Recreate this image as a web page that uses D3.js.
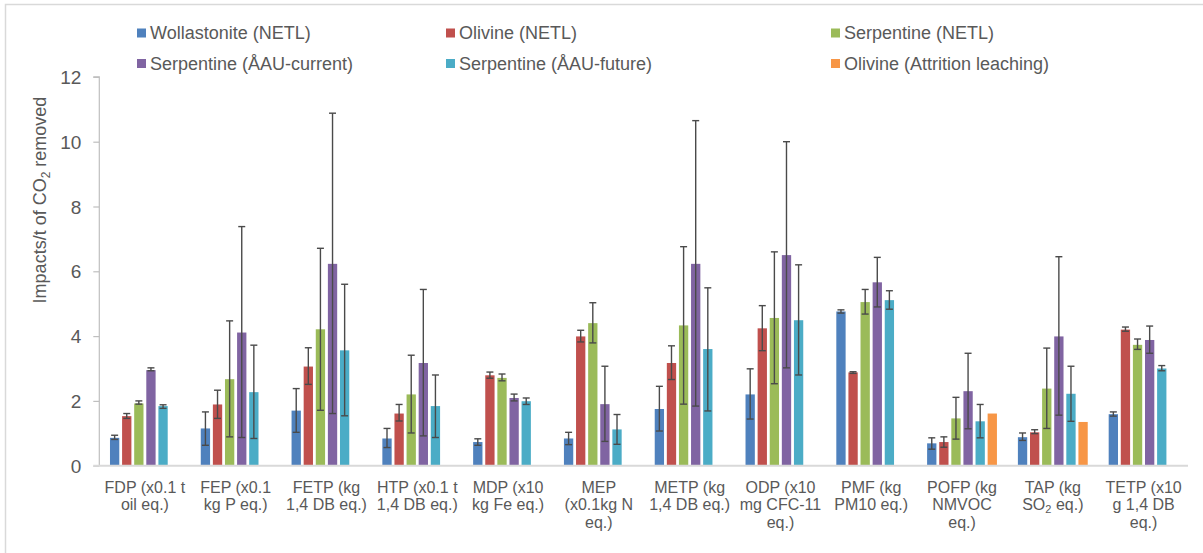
<!DOCTYPE html>
<html><head><meta charset="utf-8">
<script src="https://cdn.jsdelivr.net/npm/d3@7/dist/d3.min.js"></script>
<style>body{margin:0;background:#fff;} svg{display:block;font-family:"Liberation Sans",Arial,sans-serif;}</style>
</head><body>
<svg id="chart" width="1203" height="553"></svg>
<script>
const categories = ["FDP","FEP","FETP","HTP","MDP","MEP","METP","ODP","PMF","POFP","TAP","TETP"];
const categoryLabels = [
  ["FDP (x0.1 t","oil eq.)"],
  ["FEP (x0.1","kg P eq.)"],
  ["FETP (kg","1,4 DB eq.)"],
  ["HTP (x0.1 t","1,4 DB eq.)"],
  ["MDP (x10","kg Fe eq.)"],
  ["MEP","(x0.1kg N","eq.)"],
  ["METP (kg","1,4 DB eq.)"],
  ["ODP (x10","mg CFC-11","eq.)"],
  ["PMF (kg","PM10 eq.)"],
  ["POFP (kg","NMVOC","eq.)"],
  ["TAP (kg","SO|2| eq.)"],
  ["TETP (x10","g 1,4 DB","eq.)"]
];
const seriesNames = ["Wollastonite (NETL)","Olivine (NETL)","Serpentine (NETL)","Serpentine (ÅAU-current)","Serpentine (ÅAU-future)","Olivine (Attrition leaching)"];
const seriesColors = ["#4F81BD","#C0504D","#9BBB59","#8064A2","#4BACC6","#F79646"];

const wollastonite    = [0.86,1.15,1.70,0.84,0.73,0.84,1.75,2.20,4.76,0.69,0.88,1.59];
const wollastoniteHi  = [0.94,1.66,2.38,1.15,0.83,1.03,2.45,2.99,4.81,0.86,1.01,1.66];
const wollastoniteLo  = [0.81,0.63,1.03,0.56,0.63,0.65,1.07,1.44,4.71,0.51,0.78,1.53];
const olivine         = [1.53,1.89,3.06,1.61,2.79,3.99,3.17,4.24,2.88,0.73,1.03,4.20];
const olivineHi       = [1.61,2.33,3.64,1.89,2.89,4.18,3.70,4.94,2.90,0.89,1.11,4.28];
const olivineLo       = [1.46,1.46,2.51,1.38,2.70,3.82,2.66,3.55,2.85,0.57,0.99,4.15];
const serpNETL        = [1.92,2.67,4.21,2.20,2.71,4.40,4.33,4.56,5.05,1.46,2.38,3.73];
const serpNETLHi      = [2.00,4.47,6.71,3.41,2.83,5.03,6.76,6.60,5.44,2.11,3.63,3.91];
const serpNETLLo      = [1.90,0.89,1.71,1.01,2.62,3.79,1.90,2.53,4.68,0.82,1.15,3.59];
const serpAAUcur      = [2.95,4.11,6.23,3.17,2.09,1.90,6.23,6.50,5.66,2.30,3.99,3.88];
const serpAAUcurHi    = [3.02,7.38,10.88,5.44,2.21,3.07,10.65,10.00,6.43,3.47,6.45,4.31];
const serpAAUcurLo    = [2.93,0.87,1.61,0.92,2.00,0.75,1.84,3.02,4.90,1.14,1.56,3.47];
const serpAAUfut      = [1.84,2.27,3.56,1.84,1.99,1.12,3.60,4.49,5.11,1.37,2.22,3.00];
const serpAAUfutHi    = [1.88,3.72,5.60,2.80,2.09,1.58,5.49,6.20,5.40,1.89,3.07,3.09];
const serpAAUfutLo    = [1.77,0.84,1.54,0.87,1.89,0.66,1.69,2.80,4.83,0.86,1.37,2.93];
const attrition       = [null,null,null,null,null,null,null,null,null,1.61,1.35,null];
const yTicks = [0,2,4,6,8,10,12];

const seriesValues = [wollastonite,olivine,serpNETL,serpAAUcur,serpAAUfut,attrition];
const seriesHi = [wollastoniteHi,olivineHi,serpNETLHi,serpAAUcurHi,serpAAUfutHi,null];
const seriesLo = [wollastoniteLo,olivineLo,serpNETLLo,serpAAUcurLo,serpAAUfutLo,null];

const svg = d3.select("#chart");
const textColor = "#595959";

// chart border (only top/left visible)
svg.append("path").attr("d","M5.5,553 L5.5,4.5 L1203,4.5").attr("fill","none").attr("stroke","#d9d9d9").attr("stroke-width",1.5);

const x0 = d3.scaleBand().domain(categories).range([99.5,1189]).paddingInner(0).paddingOuter(0);
const x1 = d3.scaleBand().domain(d3.range(6)).range([0,x0.bandwidth()]).paddingInner(0).paddingOuter(0.75);
const y = d3.scaleLinear().domain([0,12]).range([465.7,76.9]);

// y axis
const yAxis = d3.axisLeft(y).tickValues(yTicks).tickSize(6).tickPadding(12).tickFormat(d3.format("d"));
const gy = svg.append("g").attr("transform","translate(99.3,0)").call(yAxis);
gy.select(".domain").attr("stroke","#bfbfbf").attr("stroke-width",1.2).attr("d","M-6,"+y(12)+"H0V"+y(0));
gy.selectAll(".tick line").attr("stroke","#bfbfbf").attr("stroke-width",1.2);
gy.selectAll(".tick text").attr("fill",textColor).style("font-size","19px").attr("dy","0.35em");

// bars
const groups = svg.append("g").selectAll("g").data(categories).join("g")
  .attr("transform",d=>`translate(${x0(d)},0)`);
seriesValues.forEach((vals,si)=>{
  groups.filter((d,i)=>vals[i]!=null).append("rect")
    .attr("x",x1(si)+1.4).attr("width",x1.bandwidth()-2.8)
    .attr("y",(d)=>y(vals[categories.indexOf(d)]))
    .attr("height",(d)=>y(0)-y(vals[categories.indexOf(d)]))
    .attr("fill",seriesColors[si]);
});
// error bars
seriesValues.forEach((vals,si)=>{
  if(!seriesHi[si]) return;
  const hi=seriesHi[si], lo=seriesLo[si];
  const cx = x1(si)+x1.bandwidth()/2;
  const eg = groups.append("g").attr("stroke","#4a4a4a").attr("stroke-width",1.4).attr("fill","none");
  eg.append("line").attr("x1",cx).attr("x2",cx).attr("y1",d=>y(hi[categories.indexOf(d)])).attr("y2",d=>y(lo[categories.indexOf(d)]));
  eg.append("line").attr("x1",cx-3.5).attr("x2",cx+3.5).attr("y1",d=>y(hi[categories.indexOf(d)])).attr("y2",d=>y(hi[categories.indexOf(d)]));
  eg.append("line").attr("x1",cx-3.5).attr("x2",cx+3.5).attr("y1",d=>y(lo[categories.indexOf(d)])).attr("y2",d=>y(lo[categories.indexOf(d)]));
});

// x axis
const xAxis = d3.axisBottom(x0).tickSize(0).tickFormat("");
const gx = svg.append("g").attr("transform",`translate(0,${y(0)})`).call(xAxis);
gx.select(".domain").attr("stroke","#d9d9d9").attr("stroke-width",2).attr("d","M93.3,0H1188");
gx.selectAll(".tick").each(function(d,i){
  const t = d3.select(this).append("text").attr("fill",textColor).attr("text-anchor","middle").style("font-size","16px");
  categoryLabels[i].forEach((line,li)=>{
    const parts = line.split("|");
    const ts = t.append("tspan").attr("x",0).attr("y",21+li*17.5+6);
    if(parts.length===1){ ts.text(line); }
    else {
      ts.text(parts[0]);
      t.append("tspan").attr("dy",3).style("font-size","11px").text(parts[1]);
      t.append("tspan").attr("dy",-3).text(parts[2]);
    }
  });
});

// y label
const yl = svg.append("text").attr("transform","translate(46,200) rotate(-90)").attr("text-anchor","middle")
  .attr("fill",textColor).style("font-size","18px");
yl.append("tspan").text("Impacts/t of CO");
yl.append("tspan").attr("dy",4).style("font-size","12px").text("2");
yl.append("tspan").attr("dy",-4).text(" removed");

// legend
const legX = [137,446,831], legY = [33,63.5];
const leg = svg.append("g").selectAll("g").data(seriesNames).join("g")
  .attr("transform",(d,i)=>`translate(${legX[i%3]},${legY[Math.floor(i/3)]})`);
leg.append("rect").attr("x",0).attr("y",-4.5).attr("width",9).attr("height",9).attr("fill",(d,i)=>seriesColors[i]);
leg.append("text").attr("x",13).attr("dy","0.35em").attr("fill",textColor).style("font-size","18px").text(d=>d);
</script>
</body></html>
